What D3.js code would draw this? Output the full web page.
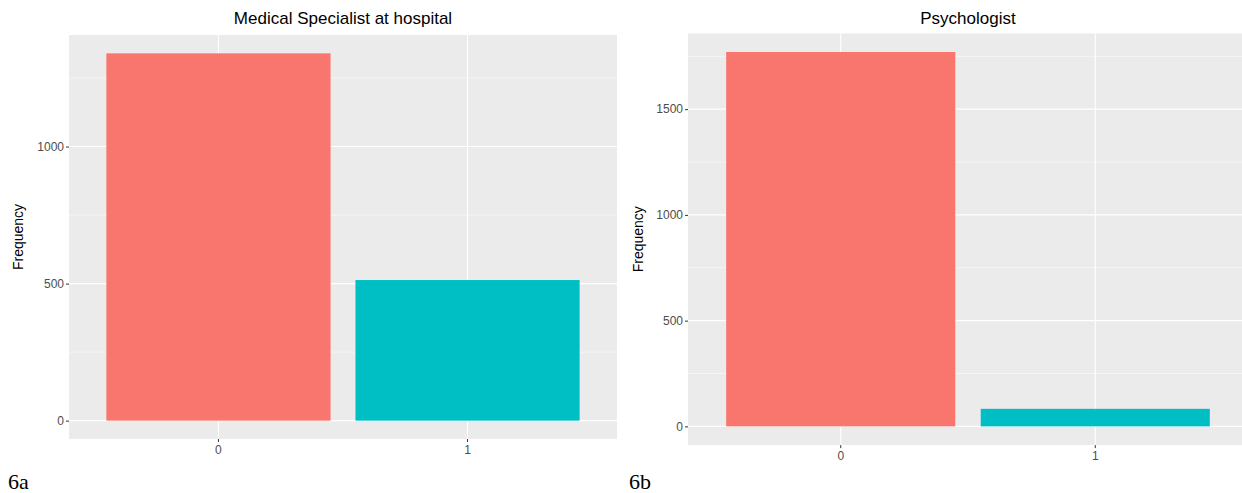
<!DOCTYPE html>
<html><head><meta charset="utf-8">
<script src="https://cdn.jsdelivr.net/npm/d3@7"></script>
<style>body{margin:0;background:#fff}svg{display:block}</style>
</head><body>
<svg id="c" width="1242" height="493"></svg>
<script>
const categories = ["0", "1"];
const medicalValues = [1340, 513];
const psychValues = [1770, 83];
const medicalTicks = [0, 500, 1000];
const medicalMinor = [250, 750, 1250];
const psychTicks = [0, 500, 1000, 1500];
const psychMinor = [250, 750, 1250, 1750];
const colors = ["#F8766D", "#00BFC4"];

const svg = d3.select("#c");
const FONT = "'Liberation Sans', Arial, sans-serif";

function panel(cfg) {
  const {x0, x1, y0, y1, values, ticks, minor, title, label, labelX} = cfg;
  const g = svg.append("g");
  const max = d3.max(values);
  const y = d3.scaleLinear().domain([-0.05 * max, 1.05 * max]).range([y1, y0]);
  const x = d3.scaleBand().domain(categories).range([x0, x1]).paddingInner(0.1).paddingOuter(0.15);
  const clipId = "clip" + label;
  svg.append("clipPath").attr("id", clipId).append("rect")
    .attr("x", x0).attr("y", y0).attr("width", x1 - x0).attr("height", y1 - y0);
  const p = g.append("g").attr("clip-path", `url(#${clipId})`);
  p.append("rect").attr("x", x0).attr("y", y0).attr("width", x1 - x0).attr("height", y1 - y0).attr("fill", "#EBEBEB");
  p.selectAll(".mn").data(minor).join("line")
    .attr("x1", x0).attr("x2", x1).attr("y1", d => y(d)).attr("y2", d => y(d))
    .attr("stroke", "#fff").attr("stroke-width", 0.55);
  p.selectAll(".mj").data(ticks).join("line")
    .attr("x1", x0).attr("x2", x1).attr("y1", d => y(d)).attr("y2", d => y(d))
    .attr("stroke", "#fff").attr("stroke-width", 1.1);
  p.selectAll(".vx").data(categories).join("line")
    .attr("x1", d => x(d) + x.bandwidth() / 2).attr("x2", d => x(d) + x.bandwidth() / 2)
    .attr("y1", y0).attr("y2", y1).attr("stroke", "#fff").attr("stroke-width", 1.1);
  p.selectAll(".bar").data(values).join("rect")
    .attr("x", (d, i) => x(categories[i])).attr("width", x.bandwidth())
    .attr("y", d => y(d)).attr("height", d => y(0) - y(d))
    .attr("fill", (d, i) => colors[i]);

  const ya = g.append("g").attr("transform", `translate(${x0},0)`)
    .call(d3.axisLeft(y).tickValues(ticks).tickSize(3).tickPadding(2).tickFormat(d3.format("d")));
  ya.select(".domain").remove();
  ya.selectAll("line").attr("stroke", "#333").attr("stroke-width", 1);
  ya.selectAll("text").attr("fill", "#4D4D4D").style("font-family", FONT).style("font-size", "12px");

  const xa = g.append("g").attr("transform", `translate(0,${y1})`)
    .call(d3.axisBottom(x).tickSize(3).tickPadding(3));
  xa.select(".domain").remove();
  xa.selectAll("line").attr("stroke", "#333").attr("stroke-width", 1);
  xa.selectAll("text").attr("fill", "#4D4D4D").style("font-family", FONT).style("font-size", "12px");

  const cx = (x0 + x1) / 2;
  g.append("text").attr("x", cx).attr("y", 24).attr("text-anchor", "middle")
    .style("font-family", FONT).style("font-size", "17px").attr("fill", "#000").text(title);
  g.append("text").attr("transform", `translate(${cfg.freqX},${(y0 + y1) / 2}) rotate(-90)`)
    .attr("text-anchor", "middle").attr("dy", "0.35em")
    .style("font-family", FONT).style("font-size", "14px").attr("fill", "#000").text("Frequency");
  g.append("text").attr("x", labelX).attr("y", 489)
    .style("font-family", "'Liberation Serif', 'Times New Roman', serif").style("font-size", "22px")
    .attr("fill", "#000").text(label);
}

panel({x0: 69, x1: 617, y0: 35, y1: 439, values: medicalValues, ticks: medicalTicks, minor: medicalMinor,
  title: "Medical Specialist at hospital", label: "6a", labelX: 8, freqX: 18});
panel({x0: 688, x1: 1248, y0: 33.3, y1: 445.1, values: psychValues, ticks: psychTicks, minor: psychMinor,
  title: "Psychologist", label: "6b", labelX: 629, freqX: 638});
</script>
</body></html>
